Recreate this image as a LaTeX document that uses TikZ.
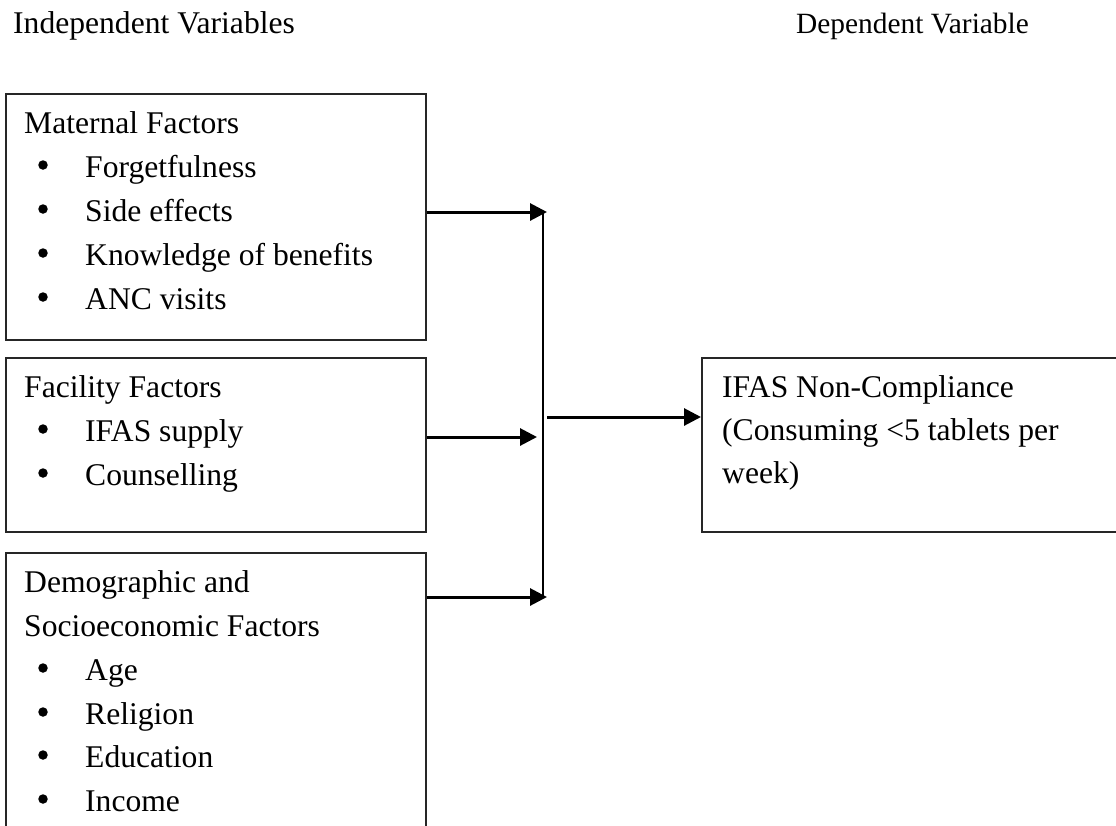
\documentclass[tikz,border=0pt]{standalone}
\usepackage{fontspec}
\setmainfont{Liberation Serif}
\usetikzlibrary{arrows.meta}
\tikzset{
  box/.style={draw=black!85, line width=1.6pt, rectangle, anchor=north west, inner sep=0pt},
  txt/.style={anchor=base west, inner sep=0pt, font=\fontsize{31.6}{40}\selectfont},
  bul/.style={circle, fill=black, inner sep=0pt, minimum size=9.5pt, yshift=12pt},
  hdr/.style={anchor=base west, inner sep=0pt},
  arr/.style={line width=3pt, -{Triangle[length=17pt,width=17pt]}, shorten >=0pt},
  vline/.style={line width=2.2pt},
}
\begin{document}
\begin{tikzpicture}[x=1pt,y=-1pt]
\useasboundingbox (0,0) rectangle (1116,825);
\clip (0,0) rectangle (1116,825);
% headers
\node[hdr, font=\fontsize{31.6}{40}\selectfont] (hi) at (13,33) {Independent Variables};
\node[hdr, font=\fontsize{29.4}{36}\selectfont] (hd) at (796,33) {Dependent Variable};
% boxes
\node[box, minimum width=420pt, minimum height=246pt] (m) at (5,93) {};
\node[box, minimum width=420pt, minimum height=174pt] (f) at (5,357) {};
\node[box, minimum width=420pt, minimum height=400pt] (d) at (5,552) {};
\node[box, minimum width=500pt, minimum height=174pt] (r) at (701,357) {};
% maternal
\node[txt] (m0) at (24,133) {Maternal Factors};
\node[bul] (mb1) at (43,177) {};
\node[txt] (m1) at (85,177) {Forgetfulness};
\node[bul] (mb2) at (43,221) {};
\node[txt] (m2) at (85,221) {Side effects};
\node[bul] (mb3) at (43,265) {};
\node[txt] (m3) at (85,265) {Knowledge of benefits};
\node[bul] (mb4) at (43,309) {};
\node[txt] (m4) at (85,309) {ANC visits};
% facility
\node[txt] (f0) at (24,397) {Facility Factors};
\node[bul] (fb1) at (43,441) {};
\node[txt] (f1) at (85,441) {IFAS supply};
\node[bul] (fb2) at (43,485) {};
\node[txt] (f2) at (85,485) {Counselling};
% demographic
\node[txt] (d0) at (24,592) {Demographic and};
\node[txt] (d00) at (24,636) {Socioeconomic Factors};
\node[bul] (db1) at (43,680) {};
\node[txt] (d1) at (85,680) {Age};
\node[bul] (db2) at (43,724) {};
\node[txt] (d2) at (85,724) {Religion};
\node[bul] (db3) at (43,767) {};
\node[txt] (d3) at (85,767) {Education};
\node[bul] (db4) at (43,811) {};
\node[txt] (d4) at (85,811) {Income};
% result
\node[txt] (r0) at (722,397) {IFAS Non-Compliance};
\node[txt] (r1) at (722,440) {(Consuming <5 tablets per};
\node[txt] (r2) at (722,483) {week)};
% connectors
\coordinate (t1) at (547,212);
\coordinate (t2) at (537,437);
\coordinate (t3) at (547,597);
\coordinate (v1) at (543,211);
\coordinate (v2) at (543,598);
\coordinate (o) at (547,417);
\draw[vline] (v1) -- (v2);
\draw[arr] (t1 -| m.east) -- (t1);
\draw[arr] (t2 -| f.east) -- (t2);
\draw[arr] (t3 -| d.east) -- (t3);
\draw[arr] (o) -- (o -| r.west);
\end{tikzpicture}
\end{document}
